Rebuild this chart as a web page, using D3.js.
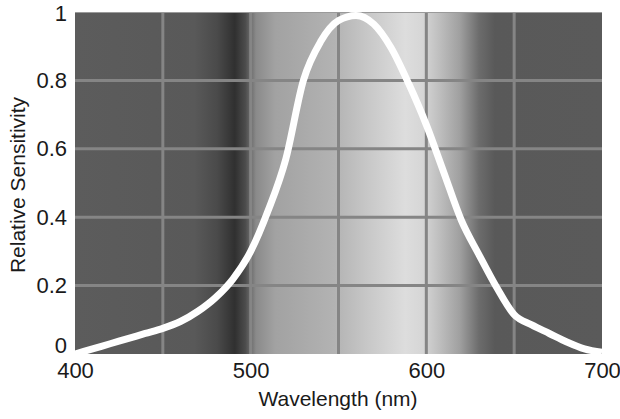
<!DOCTYPE html>
<html>
<head>
<meta charset="utf-8">
<script src="https://cdn.jsdelivr.net/npm/d3@7"></script>
<style>
  html, body { margin: 0; padding: 0; background: #fff; }
  svg { display: block; font-family: "Liberation Sans", Arial, sans-serif; }
</style>
</head>
<body>
<svg id="chart" width="620" height="419"></svg>
<script>
// ---- data ----
const wavelengths = [400,410,420,430,440,450,460,470,480,490,500,510,520,530,540,550,560,570,580,590,600,610,620,630,640,650,660,670,680,690,700];
const sensitivity = [0.00,0.015,0.03,0.045,0.06,0.075,0.095,0.125,0.165,0.22,0.30,0.42,0.57,0.80,0.915,0.975,0.99,0.965,0.895,0.79,0.67,0.53,0.39,0.29,0.195,0.115,0.085,0.06,0.035,0.015,0.005];
const xTicks = [400, 500, 600, 700];
const yTicks = [0, 0.2, 0.4, 0.6, 0.8, 1];
const yTickLabels = ["0", "0.2", "0.4", "0.6", "0.8", "1"];
const xGrid = [450, 500, 550, 600, 650];
const yGrid = [0.2, 0.4, 0.6, 0.8];
const xTitle = "Wavelength (nm)";
const yTitle = "Relative Sensitivity";

// background shading (nm -> gray)
const bgStops = [
  [400, "#5c5c5c"], [468, "#595959"], [481, "#4a4a4a"], [491, "#303030"],
  [497, "#4c4c4c"], [503, "#8a8a8a"], [514, "#a2a2a2"], [528, "#a9a9a9"],
  [548, "#b3b3b3"], [567, "#c8c8c8"], [588, "#dddddd"], [598, "#d6d6d6"],
  [608, "#bdbdbd"], [619, "#a0a0a0"], [630, "#6c6c6c"], [639, "#595959"],
  [700, "#5a5a5a"]
];

// ---- layout ----
const L = 75, R = 602, T = 12, B = 354;
const svg = d3.select("#chart");
const x = d3.scaleLinear().domain([400, 700]).range([L, R]);
const y = d3.scaleLinear().domain([0, 1]).range([B, T]);

const defs = svg.append("defs");
const grad = defs.append("linearGradient")
  .attr("id", "bg").attr("gradientUnits", "userSpaceOnUse")
  .attr("x1", x(400)).attr("x2", x(700)).attr("y1", 0).attr("y2", 0);
grad.selectAll("stop").data(bgStops).join("stop")
  .attr("offset", d => (d[0] - 400) / 300)
  .attr("stop-color", d => d[1]);

svg.append("rect")
  .attr("x", L).attr("y", T).attr("width", R - L).attr("height", B - T)
  .attr("fill", "url(#bg)");

// grid
svg.append("g").selectAll("line").data(xGrid).join("line")
  .attr("x1", d => x(d)).attr("x2", d => x(d))
  .attr("y1", T).attr("y2", B)
  .attr("stroke", "#858585").attr("stroke-width", 3);
svg.append("g").selectAll("line").data(yGrid).join("line")
  .attr("x1", L).attr("x2", R)
  .attr("y1", d => y(d)).attr("y2", d => y(d))
  .attr("stroke", "#858585").attr("stroke-width", 3);
// top edge
svg.append("line").attr("x1", L).attr("x2", R).attr("y1", T + 0.5).attr("y2", T + 0.5)
  .attr("stroke", "#9a9a9a").attr("stroke-width", 1);

// curve
const data = wavelengths.map((w, i) => ({ w, v: sensitivity[i] }));
svg.append("path")
  .datum(data)
  .attr("fill", "none")
  .attr("stroke", "#ffffff")
  .attr("stroke-width", 7)
  .attr("stroke-linejoin", "round")
  .attr("d", d3.line().x(d => x(d.w)).y(d => y(d.v)).curve(d3.curveMonotoneX));

// axes (labels only)
const xAxis = d3.axisBottom(x).tickValues(xTicks).tickSize(0).tickPadding(8).tickFormat(d3.format("d"));
const gx = svg.append("g").attr("transform", `translate(0,${B})`).call(xAxis);
gx.select(".domain").remove();
gx.selectAll("text").attr("font-size", 22).attr("fill", "#1a1a1a")
  .attr("font-family", "Liberation Sans, Arial, sans-serif")
  .attr("dy", "0.71em");

const yAxis = d3.axisLeft(y).tickValues(yTicks).tickSize(0).tickPadding(8)
  .tickFormat((d, i) => yTickLabels[i]);
const gy = svg.append("g").attr("transform", `translate(${L},0)`).call(yAxis);
gy.select(".domain").remove();
gy.selectAll("text").attr("font-size", 22).attr("fill", "#1a1a1a")
  .attr("font-family", "Liberation Sans, Arial, sans-serif");
gy.selectAll(".tick").filter(d => d === 0).select("text").attr("dy", "-0.08em");
gy.selectAll(".tick").filter(d => d === 1).select("text").attr("dy", "0.4em");

// titles
svg.append("text")
  .attr("x", 338).attr("y", 406)
  .attr("text-anchor", "middle")
  .attr("font-size", 21).attr("fill", "#1a1a1a")
  .text(xTitle);
svg.append("text")
  .attr("transform", "translate(25,185) rotate(-90)")
  .attr("text-anchor", "middle")
  .attr("font-size", 21).attr("fill", "#1a1a1a")
  .text(yTitle);
</script>
</body>
</html>
